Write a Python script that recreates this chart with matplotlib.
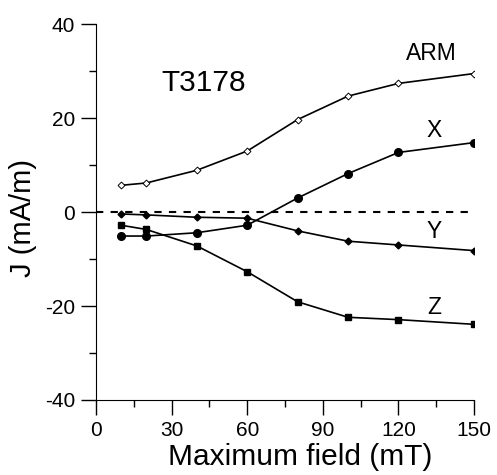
import matplotlib
matplotlib.use("Agg")
import matplotlib.pyplot as plt
from matplotlib.ticker import MultipleLocator

plt.rcParams['font.family'] = ['Liberation Sans', 'DejaVu Sans']
plt.rcParams['axes.unicode_minus'] = False

field = [10, 20, 40, 60, 80, 100, 120, 150]
arm = [5.7, 6.2, 8.9, 13.0, 19.7, 24.7, 27.4, 29.5]
jx = [-5.1, -5.1, -4.4, -2.8, 3.0, 8.2, 12.7, 14.8]
jy = [-0.4, -0.6, -1.1, -1.3, -4.0, -6.2, -7.0, -8.2]
jz = [-2.8, -3.7, -7.2, -12.7, -19.1, -22.4, -22.9, -23.9]

fig = plt.figure(figsize=(4.97, 4.75), dpi=100)
ax = fig.add_axes([0.193, 0.158, 0.761, 0.791])

ax.plot([0, 148.5], [0, 0], '--', color='k', lw=1.5, dashes=(3.5, 3.5))
ax.plot(field, arm, '-', color='k', lw=1.2, marker='D', ms=3.5, mfc='white', mec='k', mew=0.7)
ax.plot(field, jx, '-', color='k', lw=1.2, marker='o', ms=5.5)
ax.plot(field, jy, '-', color='k', lw=1.2, marker='D', ms=3.5)
ax.plot(field, jz, '-', color='k', lw=1.2, marker='s', ms=5)

ax.text(26, 27.4, 'T3178', fontsize=21.5, va='center', ha='left')
ax.text(133, 33.8, 'ARM', fontsize=16.5, va='center', ha='center')
ax.text(134, 17.3, 'X', fontsize=16.5, va='center', ha='center')
ax.text(134, -4.2, 'Y', fontsize=16.5, va='center', ha='center')
ax.text(134, -20.4, 'Z', fontsize=16.5, va='center', ha='center')

ax.set_xlim(0, 150)
ax.set_ylim(-40, 40)
ax.xaxis.set_major_locator(MultipleLocator(30))
ax.xaxis.set_minor_locator(MultipleLocator(15))
ax.yaxis.set_major_locator(MultipleLocator(20))
ax.yaxis.set_minor_locator(MultipleLocator(10))
ax.tick_params(which='major', direction='out', length=11, width=1, labelsize=15, pad=4)
ax.tick_params(which='minor', direction='out', length=5, width=1)
ax.spines['top'].set_visible(False)
ax.spines['right'].set_visible(False)
ax.set_xlabel('Maximum field (mT)', fontsize=21.5, labelpad=2)
ax.set_ylabel('J (mA/m)', fontsize=21, labelpad=6)
ax.xaxis.label.set_x(0.54)
ax.yaxis.label.set_y(0.483)

fig.savefig('out.png', dpi=100)
